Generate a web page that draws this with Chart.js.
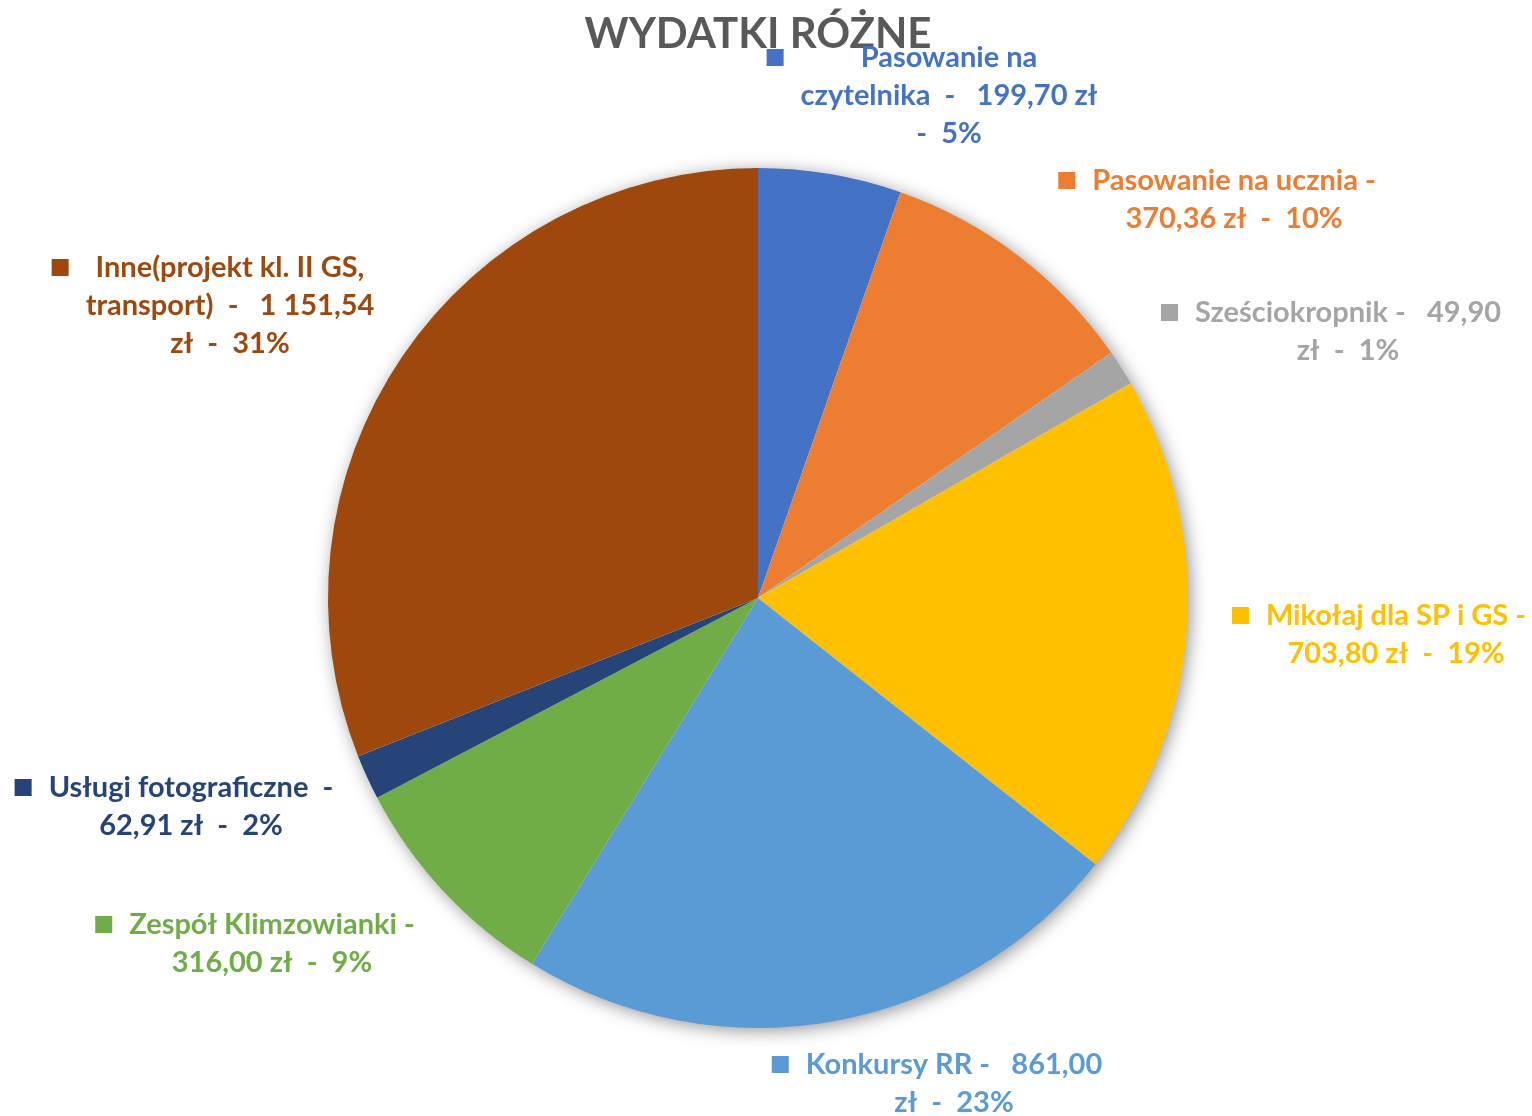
<!DOCTYPE html>
<html>
<head>
<meta charset="utf-8">
<script src="https://cdn.jsdelivr.net/npm/chart.js@4.4.1/dist/chart.umd.min.js"></script>
<style>
    html, body { margin: 0; padding: 0; background: #ffffff; }
    #wrap { width: 1532px; height: 1116px; position: relative; }
</style>
</head>
<body>
<div id="wrap"><canvas id="pieChart" width="1532" height="1116"></canvas></div>
<script>
// Chart data
const chartTitle = 'WYDATKI RÓŻNE';
const categories = [
    'Pasowanie na czytelnika',
    'Pasowanie na ucznia',
    'Sześciokropnik',
    'Mikołaj dla SP i GS',
    'Konkursy RR',
    'Zespół Klimzowianki',
    'Usługi fotograficzne',
    'Inne(projekt kl. II GS, transport)'
];
const amounts = [199.70, 370.36, 49.90, 703.80, 861.00, 316.00, 62.91, 1151.54];
const sliceColors = ['#4472C4', '#ED7D31', '#A5A5A5', '#FFC000', '#5B9BD5', '#70AD47', '#264478', '#9E480E'];

// Label text lines as wrapped in the original ({v} = amount zł, {n} = bare amount, {p} = percent)
const labelLines = [
    ['Pasowanie na', 'czytelnika  -   {v}', '-  {p}'],
    ['Pasowanie na ucznia -', '{v}  -  {p}'],
    ['Sześciokropnik -   {n}', 'zł  -  {p}'],
    ['Mikołaj dla SP i GS -', '{v}  -  {p}'],
    ['Konkursy RR -   {n}', 'zł  -  {p}'],
    ['Zespół Klimzowianki -', '{v}  -  {p}'],
    ['Usługi fotograficzne  -', '{v}  -  {p}'],
    ['Inne(projekt kl. II GS,', 'transport)  -   {n}', 'zł  -  {p}']
];

// Label block placement: centre x and first-line y offsets from pie centre
const labelLayout = [
    [191, -540], [476, -417], [590, -285], [638, 18],
    [196, 467], [-486, 327], [-567, 190], [-528, -330]
];

const FONT = '"Lato", "Open Sans", sans-serif';

function formatAmount(v) {
    const parts = v.toFixed(2).split('.');
    const intPart = parts[0].replace(/\B(?=(\d{3})+(?!\d))/g, ' ');
    return intPart + ',' + parts[1];
}

const total = amounts.reduce((a, b) => a + b, 0);

const shadowPlugin = {
    id: 'pieShadow',
    beforeDatasetsDraw(chart) {
        const arc = chart.getDatasetMeta(0).data[0];
        if (!arc) return;
        const ctx = chart.ctx;
        ctx.save();
        ctx.shadowColor = 'rgba(0, 0, 0, 0.45)';
        ctx.shadowBlur = 18;
        ctx.shadowOffsetX = 3;
        ctx.shadowOffsetY = 3;
        ctx.fillStyle = '#ffffff';
        ctx.beginPath();
        ctx.arc(arc.x, arc.y, arc.outerRadius - 1, 0, Math.PI * 2);
        ctx.fill();
        ctx.restore();
    }
};

const labelPlugin = {
    id: 'sliceLabels',
    afterDatasetsDraw(chart) {
        const ctx = chart.ctx;
        const meta = chart.getDatasetMeta(0);
        const cx = meta.data[0].x;
        const cy = meta.data[0].y;

        ctx.save();
        // title
        ctx.font = 'bold 42px ' + FONT;
        ctx.fillStyle = '#595959';
        ctx.textAlign = 'center';
        ctx.textBaseline = 'middle';
        ctx.fillText(chartTitle, cx, 34);

        ctx.font = 'bold 29px ' + FONT;
        const lineH = 38;
        labelLines.forEach((lines, i) => {
            const v = formatAmount(amounts[i]);
            const p = Math.round(amounts[i] / total * 100) + '%';
            const texts = lines.map(l => l
                .replace('{v}', v + ' zł')
                .replace('{n}', v)
                .replace('{p}', p));
            const bx = cx + labelLayout[i][0];
            const by = cy + labelLayout[i][1];
            const maxW = Math.max(...texts.map(t => ctx.measureText(t).width));
            ctx.fillStyle = sliceColors[i];
            ctx.fillRect(bx - maxW / 2 - 34, by - 9, 17, 17);
            texts.forEach((t, j) => {
                ctx.fillText(t, bx, by + j * lineH);
            });
        });
        ctx.restore();
    }
};

const chart = new Chart(document.getElementById('pieChart'), {
    type: 'pie',
    data: {
        labels: categories,
        datasets: [{
            data: amounts,
            backgroundColor: sliceColors,
            borderWidth: 0
        }]
    },
    options: {
        responsive: false,
        animation: false,
        layout: {
            padding: { top: 168, bottom: 88, left: 328, right: 344 }
        },
        plugins: {
            legend: { display: false },
            title: { display: false },
            tooltip: { enabled: false }
        }
    },
    plugins: [shadowPlugin, labelPlugin]
});
</script>
</body>
</html>
